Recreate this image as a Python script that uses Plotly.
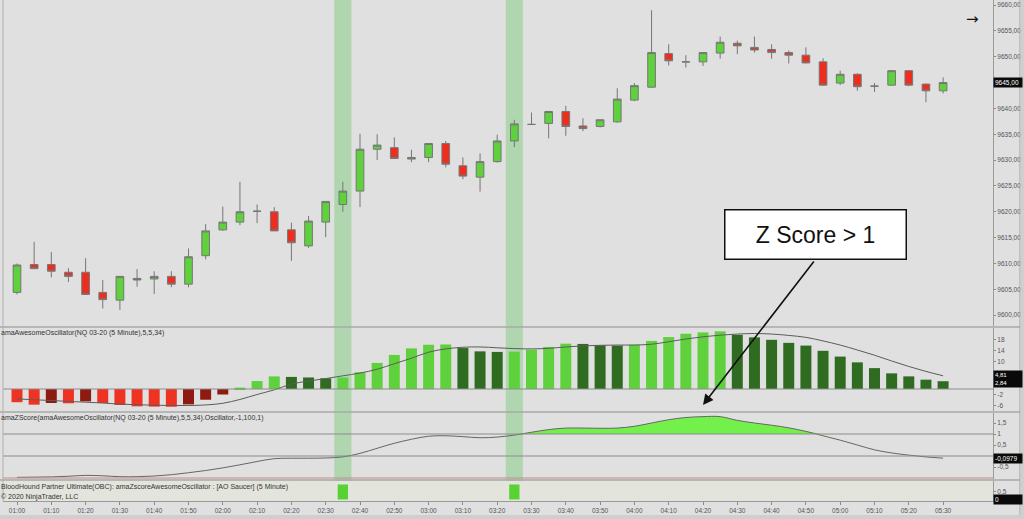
import plotly.graph_objects as go

# ---------------- data ----------------
times = ["01:00","01:05","01:10","01:15","01:20","01:25","01:30","01:35","01:40","01:45",
         "01:50","01:55","02:00","02:05","02:10","02:15","02:20","02:25","02:30","02:35",
         "02:40","02:45","02:50","02:55","03:00","03:05","03:10","03:15","03:20","03:25",
         "03:30","03:35","03:40","03:45","03:50","03:55","04:00","04:05","04:10","04:15",
         "04:20","04:25","04:30","04:35","04:40","04:45","04:50","04:55","05:00","05:05",
         "05:10","05:15","05:20","05:25","05:30"]

opens = [9604.4,9609.8,9609.8,9608.3,9608.3,9604.4,9602.9,9607.1,9607.0,9607.5,
         9606.0,9611.5,9616.5,9618.0,9620.1,9620.0,9616.5,9613.4,9618.0,9621.4,
         9624.0,9632.1,9632.4,9630.2,9630.5,9633.2,9628.9,9626.7,9629.7,9633.7,
         9636.9,9637.1,9639.4,9636.6,9636.5,9637.4,9641.6,9644.1,9650.6,9649.0,
         9649.0,9650.7,9652.6,9651.8,9651.4,9650.8,9650.3,9649.0,9644.9,9646.6,
         9644.3,9644.5,9647.3,9644.7,9643.4]
highs = [9610.0,9614.2,9612.2,9609.1,9611.0,9606.8,9607.5,9608.9,9608.5,9608.5,
         9612.9,9617.6,9621.0,9625.8,9621.4,9620.9,9617.9,9619.2,9622.0,9625.8,
         9635.1,9635.0,9634.4,9632.0,9633.2,9633.7,9630.5,9631.3,9634.9,9637.8,
         9639.2,9639.4,9640.5,9638.1,9637.8,9643.9,9644.9,9659.0,9652.4,9650.3,
         9650.8,9653.9,9653.1,9653.9,9652.4,9651.2,9651.8,9649.7,9647.3,9646.8,
         9644.9,9647.4,9647.4,9644.8,9646.0]
lows = [9604.0,9608.9,9607.3,9606.4,9603.9,9601.3,9601.0,9605.5,9604.1,9605.4,
        9605.4,9610.8,9616.3,9617.4,9617.8,9616.3,9610.5,9613.0,9615.1,9620.0,
        9620.9,9630.0,9630.2,9629.6,9629.6,9628.6,9626.3,9623.9,9629.5,9632.5,
        9636.8,9634.2,9634.7,9635.6,9636.3,9637.2,9641.4,9644.0,9648.3,9647.9,
        9648.2,9649.6,9650.5,9650.8,9649.6,9648.7,9648.7,9644.4,9644.5,9643.4,
        9643.2,9644.4,9644.3,9641.2,9642.9]
closes = [9609.7,9609.0,9608.5,9607.5,9604.0,9603.0,9607.5,9606.8,9607.5,9606.0,
          9611.3,9616.3,9618.0,9620.0,9620.1,9616.3,9614.0,9618.2,9622.0,9624.0,
          9632.1,9632.9,9630.3,9630.5,9633.2,9629.2,9626.9,9629.7,9633.7,9637.0,
          9636.9,9639.4,9636.5,9636.1,9637.8,9641.8,9644.4,9650.8,9649.2,9649.0,
          9650.8,9652.8,9652.1,9651.3,9650.8,9650.3,9648.8,9644.5,9646.6,9644.2,
          9644.3,9647.3,9644.5,9643.4,9645.0]

ao = [-4.8,-5.7,-5.1,-5.2,-4.5,-5.1,-5.8,-6.3,-6.4,-6.45,
      -5.6,-3.9,-2.0,0.5,2.9,4.6,4.4,4.2,3.9,4.2,
      6.1,9.5,12.4,14.8,16.1,16.2,14.9,13.7,13.5,13.6,
      14.3,15.3,16.5,16.4,15.9,15.8,16.1,17.5,18.9,20.1,
      20.6,21.0,19.7,18.8,17.9,16.8,15.8,13.9,11.8,9.7,
      7.6,5.7,4.6,3.4,2.84]
ao_signal = [-3.6,-3.9,-4.2,-4.5,-4.8,-5.1,-5.5,-5.7,-5.9,-6.0,
             -6.0,-5.8,-5.2,-3.8,-2.0,-0.3,1.8,2.9,3.8,4.8,
             5.8,7.2,9.2,11.2,13.4,14.6,15.2,15.3,15.0,14.7,
             14.6,14.8,15.3,15.7,15.9,16.0,16.0,16.3,17.2,18.2,
             19.0,19.6,20.0,20.2,20.0,19.5,18.8,17.5,16.0,14.2,
             12.3,10.2,8.2,6.4,4.81]
zscore = [-0.97,-0.96,-0.95,-0.92,-0.88,-0.90,-0.94,-0.94,-0.91,-0.85,
          -0.76,-0.66,-0.54,-0.40,-0.25,-0.12,-0.10,-0.10,-0.09,-0.04,
          0.12,0.35,0.58,0.76,0.90,0.92,0.88,0.83,0.86,0.95,
          1.08,1.20,1.27,1.27,1.26,1.27,1.35,1.50,1.65,1.75,
          1.79,1.79,1.62,1.50,1.40,1.28,1.12,0.92,0.72,0.50,
          0.28,0.14,0.04,-0.04,-0.0979]
saucer = [0,0,0,0,0,0,0,0,0,0,
          0,0,0,0,0,0,0,0,0,1,
          0,0,0,0,0,0,0,0,0,1,
          0,0,0,0,0,0,0,0,0,0,
          0,0,0,0,0,0,0,0,0,0,
          0,0,0,0,0]

price_ticks = [9600, 9605, 9610, 9615, 9620, 9625, 9630, 9635, 9640, 9650, 9655, 9660]
ao_ticks = [18, 14, 10, -2, -6]
z_ticks = [1.5, 1, 0.5, -0.5]
z_level = 1

# ---------------- geometry helpers ----------------
W, H = 1024, 519
ML, MR, MT, MB = 3, 31, 0, 18
PW, PH = W - ML - MR, H - MT - MB


def pxx(p):
    return (p - ML) / PW


def pxy(p):
    return (PH - p) / PH


def fmt(v, d=2):
    return (f"{v:.{d}f}").replace(".", ",")


n = len(times)
xs = list(range(n))

BG = "#e0e0e0"
LIGHT_G, DARK_G = "#5fd13d", "#2f6b20"
LIGHT_R, DARK_R = "#ee3322", "#8e1a12"

ao_colors = []
for i, v in enumerate(ao):
    rising = i > 0 and v > ao[i - 1]
    if v >= 0:
        ao_colors.append(LIGHT_G if rising else DARK_G)
    else:
        ao_colors.append(DARK_R if rising else LIGHT_R)

fig = go.Figure()

# price candles
fig.add_trace(go.Candlestick(
    x=xs, open=opens, high=highs, low=lows, close=closes,
    increasing=dict(fillcolor="#5fd13d", line=dict(color="#767676", width=1)),
    decreasing=dict(fillcolor="#ee2d1e", line=dict(color="#767676", width=1)),
    whiskerwidth=0, xaxis="x", yaxis="y", showlegend=False, hoverinfo="skip"))

# AO bars + signal
fig.add_trace(go.Bar(x=xs, y=ao, marker=dict(color=ao_colors, line=dict(width=0)),
                     width=0.64, xaxis="x", yaxis="y2", showlegend=False, hoverinfo="skip"))
fig.add_trace(go.Scatter(x=xs, y=ao_signal, mode="lines",
                         line=dict(color="#5c5c5c", width=1, shape="spline"),
                         xaxis="x", yaxis="y2", showlegend=False, hoverinfo="skip"))

# Z-score with fill above level
fig.add_trace(go.Scatter(x=xs, y=[z_level] * n, mode="lines", line=dict(width=0),
                         xaxis="x", yaxis="y3", showlegend=False, hoverinfo="skip"))
fig.add_trace(go.Scatter(x=xs, y=[max(v, z_level) for v in zscore], mode="lines",
                         line=dict(width=0, shape="spline"), fill="tonexty",
                         fillcolor="#74f04c", xaxis="x", yaxis="y3",
                         showlegend=False, hoverinfo="skip"))
fig.add_trace(go.Scatter(x=xs, y=zscore, mode="lines",
                         line=dict(color="#666666", width=1, shape="spline"),
                         xaxis="x", yaxis="y3", showlegend=False, hoverinfo="skip"))

# AO saucer
fig.add_trace(go.Bar(x=xs, y=saucer, marker=dict(color="#58d233", line=dict(width=0)),
                     width=0.6, xaxis="x", yaxis="y4", showlegend=False, hoverinfo="skip"))

shapes = []
# highlight bands at saucer signals
for i, s in enumerate(saucer):
    if s:
        shapes.append(dict(type="rect", xref="x", yref="paper", x0=i - 0.5, x1=i + 0.5,
                           y0=0, y1=1, fillcolor="rgba(110,200,110,0.42)",
                           line=dict(width=0), layer="below"))
# zero / level lines
shapes.append(dict(type="line", xref="paper", yref="y2", x0=0, x1=1, y0=0, y1=0,
                   line=dict(color="#8c8c8c", width=1)))
for lv, col in [(1, "#8c8c8c"), (0, "#8c8c8c"), (-1, "#c48a8a")]:
    shapes.append(dict(type="line", xref="paper", yref="y3", x0=0, x1=1, y0=lv, y1=lv,
                       line=dict(color=col, width=1)))
# panel separators
for yp in [327, 412, 480]:
    shapes.append(dict(type="line", xref="paper", yref="paper", x0=pxx(0), x1=pxx(1020),
                       y0=pxy(yp), y1=pxy(yp), line=dict(color="#a8a8a8", width=1.5)))
# saucer panel background
shapes.append(dict(type="rect", xref="paper", yref="paper", x0=0, x1=1,
                   y0=0, y1=pxy(481), fillcolor="#e3e5dc", line=dict(width=0), layer="below"))
# frame
shapes.append(dict(type="line", xref="paper", yref="paper", x0=pxx(1020), x1=pxx(1020),
                   y0=pxy(516), y1=1, line=dict(color="#a0a0a0", width=1)))
shapes.append(dict(type="rect", xref="paper", yref="paper", x0=pxx(1020.5), x1=pxx(1026),
                   y0=pxy(520), y1=1.01, fillcolor="#cfcfcf", line=dict(width=0)))
shapes.append(dict(type="rect", xref="paper", yref="paper", x0=pxx(-2), x1=pxx(1026),
                   y0=pxy(520), y1=pxy(515), fillcolor="#cfcfcf", line=dict(width=0)))
shapes.append(dict(type="line", xref="paper", yref="paper", x0=pxx(3), x1=pxx(3),
                   y0=0, y1=1, line=dict(color="#b0b0b0", width=1)))

FONT = "Liberation Sans, Arial, sans-serif"
tickfont = dict(family=FONT, size=6.5, color="#555555")

annotations = []
# current value boxes
def value_box(text, yref, yv, size=6.5):
    return dict(text=text, xref="paper", yref=yref, x=1.0, y=yv, xanchor="left",
                yanchor="middle", showarrow=False, bgcolor="#0a0a0a",
                font=dict(family=FONT, size=size, color="white"), borderpad=1, width=26,
                align="left")

annotations.append(value_box(fmt(closes[-1]), "y", closes[-1]))
annotations.append(value_box(fmt(ao_signal[-1]) + "<br>" + fmt(ao[-1]), "y2",
                             (ao_signal[-1] + ao[-1]) / 2, size=6))
annotations.append(value_box(fmt(zscore[-1], 4), "y3", zscore[-1]))
annotations.append(value_box("0", "y4", 0))

# panel titles
titles = [
    ("amaAwesomeOscillator(NQ 03-20 (5 Minute),5,5,34)", 333),
    ("amaZScore(amaAwesomeOscillator(NQ 03-20 (5 Minute),5,5,34).Oscillator,-1,100,1)", 418),
    ("BloodHound Partner Ultimate(OBC): amaZscoreAwesomeOscillator : [AO Saucer] (5 Minute)", 487),
    ("© 2020 NinjaTrader, LLC", 497),
]
for t, yp in titles:
    annotations.append(dict(text=t, xref="paper", yref="paper", x=pxx(-1), y=pxy(yp),
                            xanchor="left", yanchor="middle", showarrow=False,
                            font=dict(family=FONT, size=7, color="#333333")))

# callout
annotations.append(dict(text="Z Score > 1", xref="paper", yref="paper",
                        x=pxx(815), y=pxy(235), xanchor="center", yanchor="middle",
                        showarrow=False, bgcolor="white", bordercolor="#111111",
                        borderwidth=1.5, width=178, height=46,
                        font=dict(family=FONT, size=23, color="#111111")))
annotations.append(dict(text="", xref="paper", yref="paper", x=pxx(703), y=pxy(405),
                        ax=112, ay=-145, axref="pixel", ayref="pixel", showarrow=True,
                        arrowhead=2, arrowsize=1.3, arrowwidth=1.6, arrowcolor="#111111"))
annotations.append(dict(text="→", xref="paper", yref="paper", x=pxx(981), y=pxy(8),
                        showarrow=False, font=dict(family="DejaVu Sans", size=15,
                                                   color="#111111")))

xr = [(ML - 17) / 17.15, (ML - 17) / 17.15 + PW / 17.15]

common_y = dict(side="right", showgrid=False, zeroline=False, showline=True,
                linecolor="#9a9a9a", linewidth=1, ticks="outside", ticklen=2,
                tickcolor="#8a8a8a", tickfont=tickfont, fixedrange=True)

fig.update_layout(
    width=W, height=H,
    margin=dict(l=ML, r=MR, t=MT, b=MB),
    paper_bgcolor=BG, plot_bgcolor=BG,
    boxgap=0.36,
    showlegend=False,
    xaxis=dict(range=xr, anchor="y4", showgrid=False, zeroline=False,
               rangeslider=dict(visible=False), showline=True, linecolor="#9a9a9a",
               tickvals=xs[::2], ticktext=times[::2], ticks="outside", ticklen=3,
               tickcolor="#8a8a8a", tickfont=tickfont),
    yaxis=dict(domain=[pxy(326), 1], range=[9597.9, 9660.97],
               tickvals=price_ticks, ticktext=[fmt(v) for v in price_ticks], **common_y),
    yaxis2=dict(domain=[pxy(411), pxy(328)], range=[-8.0, 22.2],
                tickvals=ao_ticks, ticktext=[str(v) for v in ao_ticks], **common_y),
    yaxis3=dict(domain=[pxy(479), pxy(413)], range=[-1.045, 1.955],
                tickvals=z_ticks, ticktext=[fmt(v, 1).replace(",0", "") for v in z_ticks],
                **common_y),
    yaxis4=dict(domain=[0, pxy(481)], range=[-0.1, 1.23],
                tickvals=[0.5], ticktext=["0,5"], **common_y),
    shapes=shapes,
    annotations=annotations,
)

fig.write_html("out.html", config={"displayModeBar": False},
               post_script="document.body.style.margin='0px';document.body.style.overflow='hidden';")
